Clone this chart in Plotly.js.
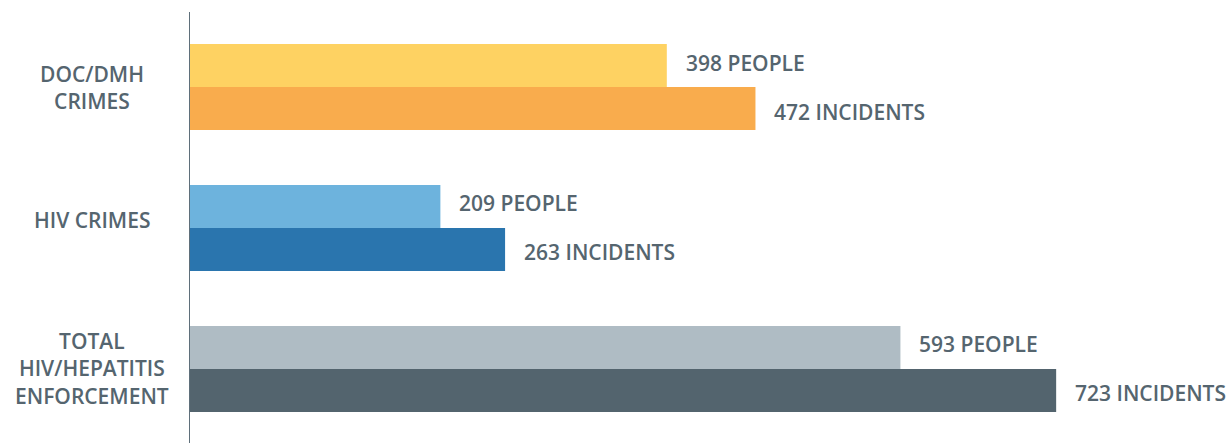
<!DOCTYPE html>
<html><head><meta charset="utf-8">
<script src="https://cdn.plot.ly/plotly-3.0.1.min.js"></script>
<style>html,body{margin:0;padding:0;background:#fff}#chart{width:1227px;height:443px}</style>
</head><body><div id="chart"></div>
<script>
const categories = ["DOC/DMH<br>CRIMES", "HIV CRIMES", "TOTAL<br>HIV/HEPATITIS<br>ENFORCEMENT"];
const people = [398, 209, 593];
const incidents = [472, 263, 723];
const peopleColors = ["#FED262", "#6DB3DD", "#AFBCC4"];
const incidentColors = ["#F9AC4D", "#2A75AE", "#53646E"];
const textColor = "#55656F";
const font = {family: "Open Sans", size: 21, color: textColor, weight: 600};

const ids = categories.map((c, i) => i);
const traces = [
  {type: "bar", orientation: "h", y: ids, x: people, marker: {color: peopleColors}, hoverinfo: "none", name: "People"},
  {type: "bar", orientation: "h", y: ids, x: incidents, marker: {color: incidentColors}, hoverinfo: "none", name: "Incidents"}
];
const bargap = 0.39;
const half = (1 - bargap) / 4;
const annotations = [];
ids.forEach(i => {
  annotations.push({x: people[i], y: i - half, xref: "x", yref: "y", text: people[i] + " PEOPLE", showarrow: false, xanchor: "left", xshift: 17, yshift: 3, font: font});
  annotations.push({x: incidents[i], y: i + half, xref: "x", yref: "y", text: incidents[i] + " INCIDENTS", showarrow: false, xanchor: "left", xshift: 17, yshift: -3, font: font});
  annotations.push({x: -98 / 1037, xref: "paper", y: i, yref: "y", text: categories[i], showarrow: false, xanchor: "center", align: "center", yshift: i === 1 ? 8 : 0, font: font});
});
const layout = {
  width: 1227, height: 443,
  margin: {l: 190, r: 0, t: 12, b: 0},
  barmode: "group", bargap: bargap, bargroupgap: 0,
  showlegend: false,
  paper_bgcolor: "#fff", plot_bgcolor: "#fff",
  xaxis: {range: [0, 865.6], showgrid: false, zeroline: false, showticklabels: false, showline: false, fixedrange: true},
  yaxis: {range: [2.525, -0.532], showgrid: false, zeroline: false, showticklabels: false, showline: true, linecolor: "#5F6F7A", linewidth: 1, fixedrange: true},
  annotations: annotations
};
Plotly.newPlot("chart", traces, layout, {displayModeBar: false, staticPlot: true});
</script></body></html>
